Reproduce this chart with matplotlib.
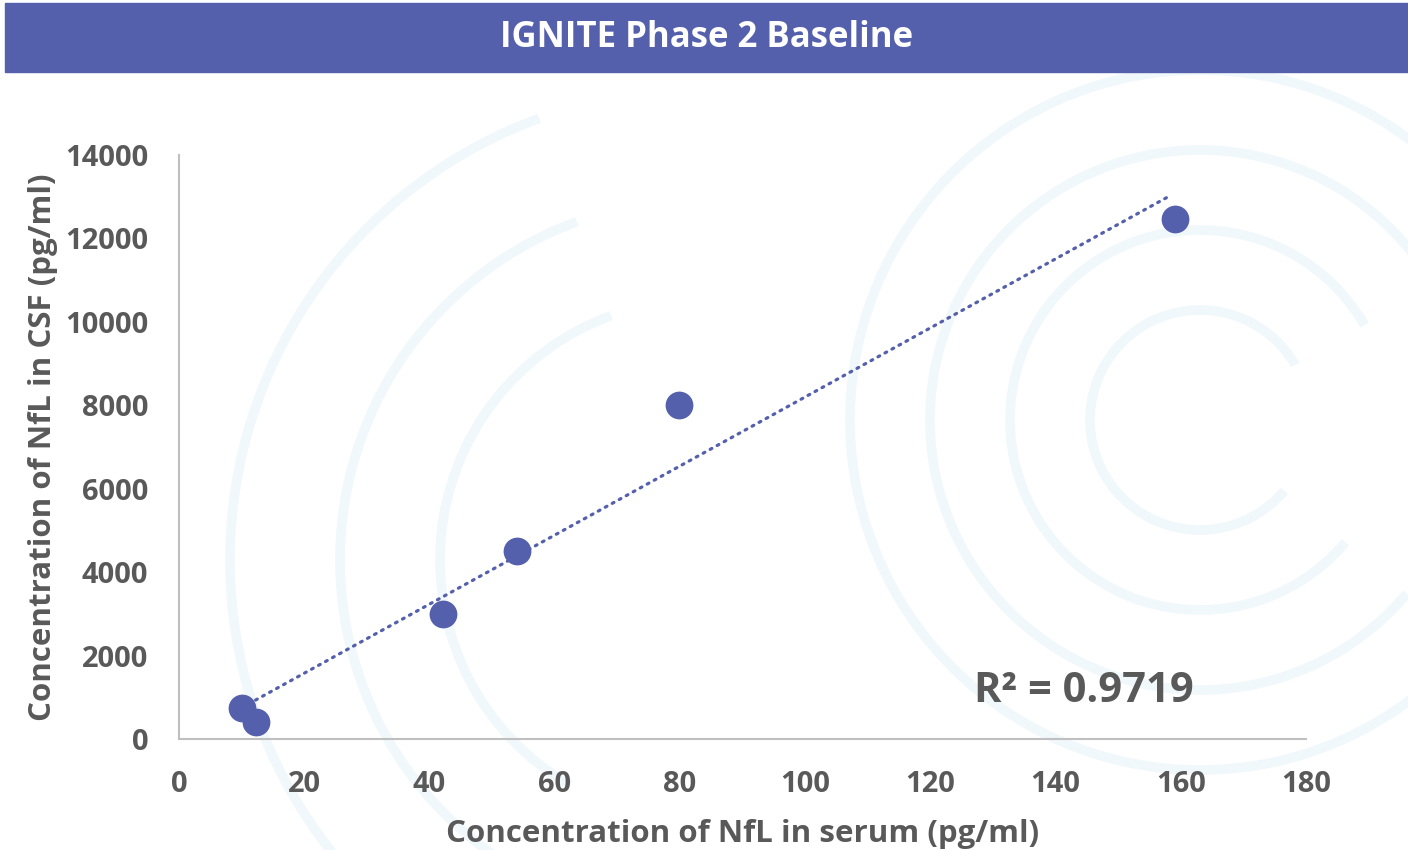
import matplotlib.pyplot as plt
import numpy as np
from matplotlib.patches import Arc, Rectangle

# values
serum_nfl = [10.0, 12.3, 42.2, 54.0, 79.9, 159.1]
csf_nfl = [750, 400, 3000, 4500, 8000, 12470]
r_squared_label = "R\u00b2 = 0.9719"
title = "IGNITE Phase 2 Baseline"
x_ticks = [0, 20, 40, 60, 80, 100, 120, 140, 160, 180]
y_ticks = [0, 2000, 4000, 6000, 8000, 10000, 12000, 14000]

PURPLE = "#5560AD"
GREY = "#595959"
W, H = 1408, 850

plt.rcParams["font.family"] = ["Open Sans", "DejaVu Sans"]

fig = plt.figure(figsize=(W / 100, H / 100), dpi=100)

# faint decorative arcs behind the chart
deco = fig.add_axes([0, 0, 1, 1], zorder=0)
deco.set_xlim(0, W)
deco.set_ylim(H, 0)
deco.axis("off")
ARC = "#F1F8FB"
for r in (110, 190, 270, 350):
    deco.add_patch(Arc((1200, 420), 2 * r, 2 * r, theta1=40, theta2=330,
                       color=ARC, lw=7))
for r in (260, 360, 470):
    deco.add_patch(Arc((700, 560), 2 * r, 2 * r, theta1=120, theta2=250,
                       color=ARC, lw=7))
for r in (380, 480):
    deco.add_patch(Arc((900, 1050), 2 * r, 2 * r, theta1=95, theta2=170,
                       color=ARC, lw=7))

# title banner
deco.add_patch(Rectangle((5, 3), W - 5, 69, color=PURPLE, zorder=2))
deco.text(707, 38, title, color="white", fontsize=25, fontweight="bold",
          ha="center", va="center", zorder=3)

ax = fig.add_axes([179 / W, 1 - 739 / H, (1306 - 179) / W, (739 - 155) / H], zorder=1)
ax.patch.set_alpha(0)

x = np.asarray(serum_nfl)
y = np.asarray(csf_nfl)
slope, intercept = np.polyfit(x, y, 1)
fit_x = np.array([x.min(), x.max() - 1])
ax.plot(fit_x, slope * fit_x + intercept, color=PURPLE, lw=2.3,
        linestyle=(0, (0.6, 1.9)), dash_capstyle="round", zorder=2)
ax.scatter(x, y, s=400, color=PURPLE, zorder=3, linewidths=0)

ax.set_xlim(0, 180)
ax.set_ylim(0, 14000)
ax.set_xticks(x_ticks)
ax.set_yticks(y_ticks)
ax.tick_params(length=0, labelsize=21, labelcolor=GREY)
ax.tick_params(axis="y", pad=22)
ax.tick_params(axis="x", pad=22)
for lbl in ax.get_xticklabels() + ax.get_yticklabels():
    lbl.set_fontweight("bold")
for side in ("top", "right"):
    ax.spines[side].set_visible(False)
for side in ("left", "bottom"):
    ax.spines[side].set_color("#BFBFBF")
    ax.spines[side].set_linewidth(1.5)

ax.set_xlabel("Concentration of NfL in serum (pg/ml)", fontsize=22.5,
              fontweight="bold", color=GREY, labelpad=15)
ax.set_ylabel("Concentration of NfL in CSF (pg/ml)", fontsize=22.5,
              fontweight="bold", color=GREY, labelpad=5)

ax.text(127, 880, r_squared_label, fontsize=30, fontweight="bold", color=GREY)

fig.savefig("out.png", dpi=100)
